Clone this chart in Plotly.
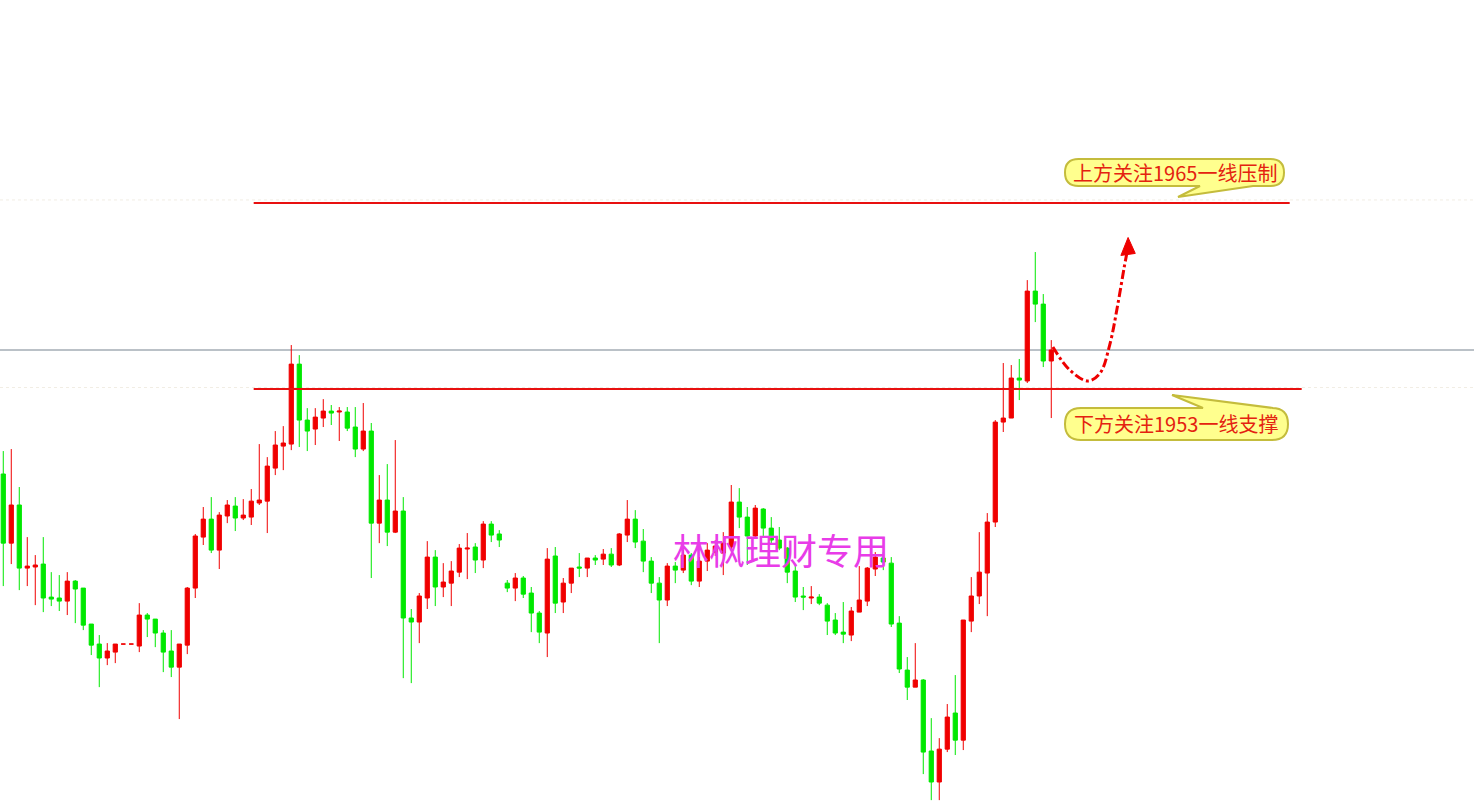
import plotly.graph_objects as go

# ---------------- data (prices) ----------------
open_ = [1947.52, 1943.06, 1945.52, 1941.45, 1941.52, 1941.71, 1939.58, 1939.52, 1939.32, 1940.61,
         1940.16, 1937.84, 1936.55, 1935.65, 1936.03, 1936.55, 1936.55, 1936.42, 1938.42, 1938.16,
         1937.26, 1936.10, 1935.06, 1936.48, 1940.16, 1943.45, 1944.61, 1942.61, 1944.81, 1945.45,
         1944.68, 1944.74, 1945.65, 1945.77, 1947.90, 1949.32, 1949.45, 1954.61, 1951.00, 1950.42,
         1951.13, 1951.58, 1951.52, 1951.52, 1950.55, 1949.13, 1950.29, 1944.35, 1945.84, 1943.77,
         1945.13, 1938.23, 1937.97, 1939.52, 1942.16, 1940.23, 1940.48, 1941.19, 1942.68, 1942.81,
         1941.97, 1944.29, 1943.65, 1940.48, 1940.16, 1940.81, 1939.84, 1938.55, 1937.26, 1942.23,
         1939.26, 1940.48, 1941.52, 1941.45, 1942.10, 1942.03, 1942.35, 1941.65, 1943.58, 1944.61,
         1943.19, 1941.90, 1940.48, 1939.39, 1941.58, 1941.32, 1942.29, 1940.61, 1941.90, 1942.48,
         1942.42, 1942.81, 1945.71, 1944.74, 1943.52, 1945.26, 1944.03, 1943.26, 1942.74, 1941.26,
         1939.65, 1939.52, 1939.58, 1939.06, 1938.10, 1937.32, 1937.13, 1938.61, 1939.32, 1941.39,
         1942.10, 1941.77, 1937.90, 1934.87, 1933.77, 1934.23, 1929.65, 1927.65, 1929.77, 1932.10,
         1930.35, 1938.03, 1939.65, 1941.13, 1944.42, 1950.87, 1951.13, 1953.71, 1953.52, 1959.32,
         1958.48, 1954.81]
high = [1949.00, 1949.13, 1946.68, 1943.45, 1942.29, 1943.45, 1941.19, 1941.00, 1941.19, 1940.68,
        1940.16, 1937.84, 1937.13, 1936.61, 1936.55, 1936.55, 1936.55, 1939.19, 1938.55, 1938.16,
        1937.45, 1937.45, 1936.55, 1940.23, 1943.65, 1945.39, 1946.03, 1945.06, 1945.84, 1946.03,
        1945.90, 1946.55, 1949.45, 1948.61, 1950.29, 1950.61, 1955.84, 1955.19, 1951.77, 1951.77,
        1952.35, 1951.97, 1951.84, 1951.84, 1951.84, 1952.10, 1950.81, 1947.45, 1948.16, 1949.71,
        1946.03, 1938.81, 1939.84, 1943.19, 1942.61, 1941.77, 1941.90, 1943.00, 1943.71, 1943.06,
        1944.48, 1944.48, 1943.90, 1940.68, 1941.13, 1940.94, 1940.23, 1938.68, 1942.74, 1942.81,
        1940.81, 1941.45, 1942.42, 1942.10, 1942.29, 1942.68, 1942.74, 1943.71, 1945.84, 1945.19,
        1943.97, 1942.16, 1940.87, 1941.77, 1941.84, 1942.61, 1942.42, 1942.16, 1943.06, 1943.26,
        1943.77, 1946.81, 1946.61, 1945.39, 1945.52, 1945.32, 1944.74, 1944.10, 1942.81, 1941.65,
        1940.23, 1940.29, 1939.77, 1939.19, 1938.55, 1939.26, 1938.94, 1941.58, 1941.52, 1942.48,
        1942.48, 1942.16, 1938.35, 1935.71, 1936.61, 1934.29, 1931.77, 1930.48, 1932.68, 1934.55,
        1938.10, 1940.87, 1943.77, 1945.00, 1951.00, 1954.68, 1954.55, 1954.94, 1960.03, 1961.84,
        1959.13, 1956.16]
low = [1940.29, 1941.71, 1940.03, 1940.29, 1939.06, 1938.61, 1939.00, 1938.68, 1938.42, 1937.90,
       1937.45, 1935.84, 1933.77, 1935.19, 1935.32, 1936.55, 1936.55, 1936.03, 1937.00, 1936.35,
       1934.74, 1934.42, 1931.71, 1935.90, 1939.52, 1942.94, 1942.42, 1941.39, 1944.35, 1943.84,
       1944.55, 1944.23, 1945.52, 1943.71, 1947.45, 1947.77, 1949.06, 1949.26, 1949.00, 1949.39,
       1950.55, 1950.68, 1949.65, 1950.29, 1948.61, 1949.00, 1940.81, 1943.06, 1942.87, 1943.71,
       1934.35, 1934.03, 1936.61, 1938.81, 1939.00, 1939.58, 1939.00, 1940.87, 1940.74, 1941.13,
       1941.45, 1943.13, 1942.81, 1939.90, 1939.32, 1939.52, 1937.32, 1936.61, 1935.71, 1938.55,
       1938.55, 1939.84, 1940.87, 1940.87, 1941.65, 1941.65, 1941.52, 1941.58, 1943.13, 1942.74,
       1941.19, 1939.84, 1936.61, 1939.00, 1940.48, 1941.13, 1940.35, 1940.23, 1941.26, 1942.23,
       1941.00, 1942.61, 1944.03, 1941.65, 1943.39, 1943.39, 1943.06, 1942.61, 1940.48, 1939.26,
       1938.74, 1939.13, 1939.06, 1937.13, 1937.13, 1936.61, 1936.74, 1938.61, 1939.00, 1940.94,
       1941.32, 1937.65, 1934.68, 1932.94, 1933.77, 1928.16, 1926.48, 1926.48, 1929.58, 1929.39,
       1929.71, 1937.32, 1939.13, 1938.35, 1944.10, 1950.23, 1951.13, 1952.29, 1953.39, 1957.32,
       1954.42, 1951.13]
close = [1943.06, 1945.52, 1941.45, 1941.58, 1941.65, 1939.52, 1939.45, 1939.32, 1940.61, 1940.10,
         1937.77, 1936.48, 1935.65, 1936.10, 1936.55, 1936.55, 1936.55, 1938.42, 1938.16, 1937.26,
         1936.03, 1935.06, 1936.55, 1940.16, 1943.52, 1944.61, 1942.61, 1944.87, 1945.52, 1944.68,
         1944.87, 1945.77, 1945.84, 1948.03, 1949.39, 1949.52, 1954.61, 1951.00, 1950.29, 1951.19,
         1951.58, 1951.45, 1951.58, 1950.48, 1949.13, 1950.29, 1944.35, 1945.84, 1943.77, 1945.13,
         1938.23, 1937.97, 1939.65, 1942.16, 1940.23, 1940.55, 1941.26, 1942.74, 1942.74, 1941.97,
         1944.29, 1943.58, 1943.26, 1940.16, 1940.81, 1939.77, 1938.55, 1937.32, 1942.03, 1939.19,
         1940.48, 1941.45, 1941.45, 1942.10, 1941.97, 1942.35, 1941.65, 1943.65, 1944.61, 1943.13,
         1941.90, 1940.48, 1939.39, 1941.58, 1941.32, 1942.29, 1940.61, 1941.90, 1942.61, 1942.87,
         1943.06, 1945.71, 1944.74, 1943.52, 1945.32, 1944.03, 1943.26, 1942.74, 1941.19, 1939.58,
         1939.58, 1939.58, 1939.19, 1938.03, 1937.26, 1937.19, 1938.68, 1939.39, 1941.45, 1942.16,
         1941.84, 1937.84, 1934.94, 1933.77, 1934.23, 1929.58, 1927.65, 1929.77, 1931.84, 1930.35,
         1938.10, 1939.65, 1941.19, 1944.42, 1950.87, 1951.13, 1953.71, 1953.58, 1959.32, 1958.48,
         1954.81, 1955.52]
bar_index = list(range(len(open_)))

resistance_level = 1965
support_level = 1953
last_price = 1955.52
resistance_span = [31.3, 160.8]
support_span = [31.3, 162.3]

resistance_text = "上方关注1965一线压制"
support_text = "下方关注1953一线支撑"
watermark_text = "林枫理财专用"

# projected path (bar index, price) of the dash-dot arrow
arrow_idx = [131.2, 133.3, 135.6, 137.1, 138.3, 139.3, 140.1, 140.45]
arrow_price = [1955.71, 1954.23, 1953.52, 1954.03, 1955.84, 1958.42, 1960.81, 1961.78]
arrowhead_idx = [139.7, 140.6, 141.5, 139.7]
arrowhead_price = [1961.62, 1962.78, 1961.75, 1961.62]

# ---------------- style ----------------
W, H = 1474, 802
RED = "#f00000"
GREEN = "#00e800"
LINE_RED = "#e81010"
X_RANGE = [-0.41, 183.84]
Y_RANGE = [1926.36, 1978.10]

fig = go.Figure()

# faint level guides across the whole chart
for lvl in (resistance_level + 0.2, support_level + 0.1):
    fig.add_shape(type="line", xref="x", yref="y", x0=X_RANGE[0], x1=X_RANGE[1],
                  y0=lvl, y1=lvl, line=dict(color="#f1ede4", width=1, dash="dot"), layer="below")

# current price line
fig.add_shape(type="line", xref="x", yref="y", x0=X_RANGE[0], x1=X_RANGE[1],
              y0=last_price, y1=last_price, line=dict(color="#76838f", width=1), layer="below")

fig.add_trace(go.Candlestick(
    x=bar_index, open=open_, high=high, low=low, close=close,
    increasing=dict(line=dict(color=RED, width=1), fillcolor=RED),
    decreasing=dict(line=dict(color=GREEN, width=1), fillcolor=GREEN),
    whiskerwidth=0, showlegend=False, hoverinfo="skip",
))

# support / resistance lines
fig.add_shape(type="line", xref="x", yref="y", x0=resistance_span[0], x1=resistance_span[1],
              y0=resistance_level, y1=resistance_level, line=dict(color=LINE_RED, width=2))
fig.add_shape(type="line", xref="x", yref="y", x0=support_span[0], x1=support_span[1],
              y0=support_level, y1=support_level, line=dict(color=LINE_RED, width=2))

# dash-dot projection arrow
fig.add_trace(go.Scatter(x=arrow_idx, y=arrow_price, mode="lines",
                         line=dict(color="#ee0000", width=3, dash="dashdot", shape="spline"),
                         showlegend=False, hoverinfo="skip"))
fig.add_trace(go.Scatter(x=arrowhead_idx, y=arrowhead_price, mode="lines", fill="toself",
                         fillcolor="#ee0000", line=dict(color="#ee0000", width=1),
                         showlegend=False, hoverinfo="skip"))


def P(x, y):
    return f"{x / W:.5f},{1 - y / H:.5f}"


def bubble_path(x0, y0, x1, y1, side, a, b, tip):
    r = (y1 - y0) / 2.0
    tx, ty = tip
    if side == "bottom":
        return (f"M {P(x0 + r, y0)} L {P(x1 - r, y0)} Q {P(x1, y0)} {P(x1, y0 + r)} "
                f"Q {P(x1, y1)} {P(x1 - r, y1)} L {P(b, y1)} L {P(tx, ty)} L {P(a, y1)} "
                f"L {P(x0 + r, y1)} Q {P(x0, y1)} {P(x0, y1 - r)} Q {P(x0, y0)} {P(x0 + r, y0)} Z")
    return (f"M {P(x0 + r, y0)} L {P(a, y0)} L {P(tx, ty)} L {P(b, y0)} L {P(x1 - r, y0)} "
            f"Q {P(x1, y0)} {P(x1, y0 + r)} Q {P(x1, y1)} {P(x1 - r, y1)} "
            f"L {P(x0 + r, y1)} Q {P(x0, y1)} {P(x0, y1 - r)} Q {P(x0, y0)} {P(x0 + r, y0)} Z")


fig.add_shape(type="path", xref="paper", yref="paper",
              path=bubble_path(1065, 159, 1284, 186, "bottom", 1200, 1253, (1178, 197)),
              fillcolor="#ffff8e", line=dict(color="#c4bc3c", width=2))
fig.add_shape(type="path", xref="paper", yref="paper",
              path=bubble_path(1065, 408, 1288, 440, "top", 1203, 1273, (1172, 395)),
              fillcolor="#ffff8e", line=dict(color="#c4bc3c", width=2))

fig.add_annotation(xref="paper", yref="paper", x=1175 / W, y=1 - 172.5 / H,
                   text=resistance_text, showarrow=False, xanchor="center", yanchor="middle",
                   font=dict(family="Noto Sans CJK SC", size=20, color="#e42210"))
fig.add_annotation(xref="paper", yref="paper", x=1176 / W, y=1 - 423.5 / H,
                   text=support_text, showarrow=False, xanchor="center", yanchor="middle",
                   font=dict(family="Noto Sans CJK SC", size=20, color="#e42210"))
fig.add_annotation(xref="paper", yref="paper", x=781 / W, y=1 - 549 / H,
                   text=watermark_text, showarrow=False, xanchor="center", yanchor="middle",
                   font=dict(family="Noto Sans CJK SC", size=36, color="#e83ce8"))

fig.update_layout(
    width=W, height=H, margin=dict(l=0, r=0, t=0, b=0),
    paper_bgcolor="white", plot_bgcolor="white", boxgap=0.25,
    xaxis=dict(visible=False, range=X_RANGE, rangeslider=dict(visible=False), fixedrange=True),
    yaxis=dict(visible=False, range=Y_RANGE, fixedrange=True),
    showlegend=False,
)

fig.write_html("out.html", config={"displayModeBar": False},
               post_script="document.body.style.margin='0';")
